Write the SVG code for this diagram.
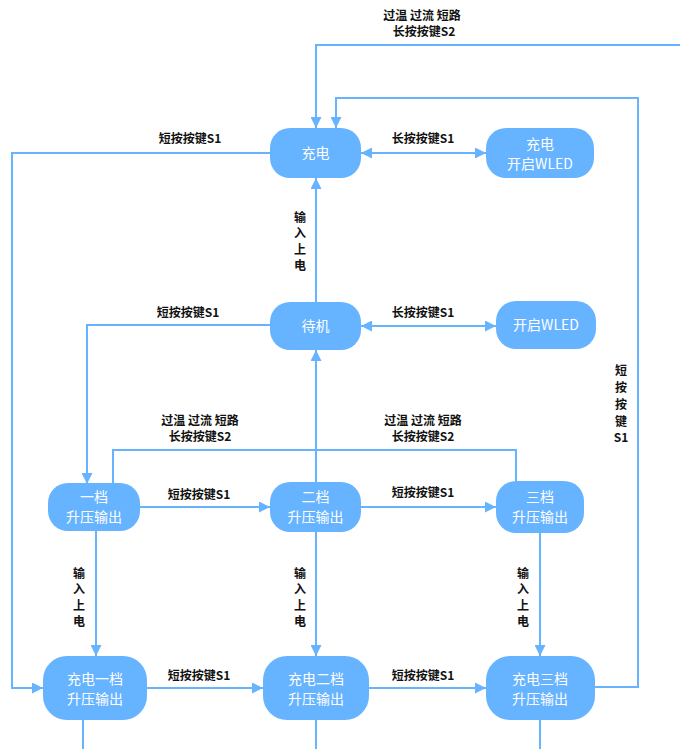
<svg xmlns="http://www.w3.org/2000/svg" width="680" height="749" viewBox="0 0 680 749">
<style>
.node{fill:#66b3ff}
.nt{fill:#ffffff;font-family:"Noto Sans CJK SC","Liberation Sans",sans-serif;font-size:14px;text-anchor:middle}
.lbl{fill:#111111;font-family:"Noto Sans CJK SC","Liberation Sans",sans-serif;font-size:12px;font-weight:bold;text-anchor:middle}
.c{fill:none;stroke:#66b3ff;stroke-width:2}
</style>
<defs>
<marker id="ah" viewBox="0 0 10 10" refX="10" refY="5" markerWidth="11" markerHeight="11" markerUnits="userSpaceOnUse" orient="auto-start-reverse">
<path d="M0 0 L10 5 L0 10 Z" fill="#66b3ff"/>
</marker>
</defs>
<rect width="680" height="749" fill="#ffffff"/>
<g id="connectors">
<path class="c" d="M680 45 H316 V128" marker-end="url(#ah)"/>
<path class="c" d="M595 687 H638 V98 H336 V128" marker-end="url(#ah)"/>
<path class="c" d="M361 153 H486" marker-start="url(#ah)" marker-end="url(#ah)"/>
<path class="c" d="M270 153 H12 V688 H43" marker-end="url(#ah)"/>
<path class="c" d="M316 302 V178" marker-end="url(#ah)"/>
<path class="c" d="M361 326 H496" marker-start="url(#ah)" marker-end="url(#ah)"/>
<path class="c" d="M270 325 H87 V484" marker-end="url(#ah)"/>
<path class="c" d="M316 482 V350" marker-end="url(#ah)"/>
<path class="c" d="M113 484 V450 H516 V481"/>
<path class="c" d="M140 507 H270" marker-end="url(#ah)"/>
<path class="c" d="M361 507 H496" marker-end="url(#ah)"/>
<path class="c" d="M96 530 V656" marker-end="url(#ah)"/>
<path class="c" d="M316 532 V656" marker-end="url(#ah)"/>
<path class="c" d="M540 532 V656" marker-end="url(#ah)"/>
<path class="c" d="M147 688 H263" marker-end="url(#ah)"/>
<path class="c" d="M369 688 H486" marker-end="url(#ah)"/>
<path class="c" d="M83 720 V749"/>
<path class="c" d="M316 720 V749"/>
<path class="c" d="M540 720 V749"/>
</g>
<g id="labels">
<text class="lbl" x="422" y="20">过温 过流 短路</text>
<text class="lbl" x="424" y="36">长按按键S2</text>
<text class="lbl" x="423" y="143">长按按键S1</text>
<text class="lbl" x="190" y="143">短按按键S1</text>
<text class="lbl" x="300" y="222">输</text>
<text class="lbl" x="300" y="238">入</text>
<text class="lbl" x="300" y="254">上</text>
<text class="lbl" x="300" y="270">电</text>
<text class="lbl" x="423" y="317">长按按键S1</text>
<text class="lbl" x="188" y="317">短按按键S1</text>
<text class="lbl" x="621" y="375">短</text>
<text class="lbl" x="621" y="392">按</text>
<text class="lbl" x="621" y="409">按</text>
<text class="lbl" x="621" y="426">键</text>
<text class="lbl" x="621" y="442">S1</text>
<text class="lbl" x="200" y="425">过温 过流 短路</text>
<text class="lbl" x="200" y="441">长按按键S2</text>
<text class="lbl" x="423" y="425">过温 过流 短路</text>
<text class="lbl" x="423" y="441">长按按键S2</text>
<text class="lbl" x="199" y="499">短按按键S1</text>
<text class="lbl" x="423" y="497">短按按键S1</text>
<text class="lbl" x="79" y="578">输</text>
<text class="lbl" x="79" y="594">入</text>
<text class="lbl" x="79" y="610">上</text>
<text class="lbl" x="79" y="626">电</text>
<text class="lbl" x="300" y="578">输</text>
<text class="lbl" x="300" y="594">入</text>
<text class="lbl" x="300" y="610">上</text>
<text class="lbl" x="300" y="626">电</text>
<text class="lbl" x="523" y="578">输</text>
<text class="lbl" x="523" y="594">入</text>
<text class="lbl" x="523" y="610">上</text>
<text class="lbl" x="523" y="626">电</text>
<text class="lbl" x="199" y="680">短按按键S1</text>
<text class="lbl" x="423" y="680">短按按键S1</text>
</g>
<g id="n_charge"><rect class="node" x="270" y="128" width="91" height="50" rx="20"/><text class="nt" x="315.5" y="158">充电</text></g>
<g id="n_charge_wled"><rect class="node" x="486" y="128" width="108" height="50" rx="20"/><text class="nt" x="540" y="149">充电</text><text class="nt" x="540" y="169">开启WLED</text></g>
<g id="n_standby"><rect class="node" x="270" y="302" width="91" height="48" rx="20"/><text class="nt" x="315.5" y="331">待机</text></g>
<g id="n_wled"><rect class="node" x="496" y="301" width="100" height="48" rx="20"/><text class="nt" x="546" y="330">开启WLED</text></g>
<g id="n_g1"><rect class="node" x="48" y="483" width="92" height="48" rx="20"/><text class="nt" x="94" y="502">一档</text><text class="nt" x="94" y="522">升压输出</text></g>
<g id="n_g2"><rect class="node" x="270" y="482" width="91" height="50" rx="20"/><text class="nt" x="315.5" y="502">二档</text><text class="nt" x="315.5" y="522">升压输出</text></g>
<g id="n_g3"><rect class="node" x="496" y="481" width="88" height="52" rx="20"/><text class="nt" x="540" y="502">三档</text><text class="nt" x="540" y="522">升压输出</text></g>
<g id="n_cg1"><rect class="node" x="43" y="656" width="104" height="64" rx="24"/><text class="nt" x="95" y="684">充电一档</text><text class="nt" x="95" y="704">升压输出</text></g>
<g id="n_cg2"><rect class="node" x="263" y="656" width="106" height="64" rx="24"/><text class="nt" x="316" y="684">充电二档</text><text class="nt" x="316" y="704">升压输出</text></g>
<g id="n_cg3"><rect class="node" x="486" y="656" width="109" height="64" rx="24"/><text class="nt" x="540" y="684">充电三档</text><text class="nt" x="540" y="704">升压输出</text></g>
</svg>
